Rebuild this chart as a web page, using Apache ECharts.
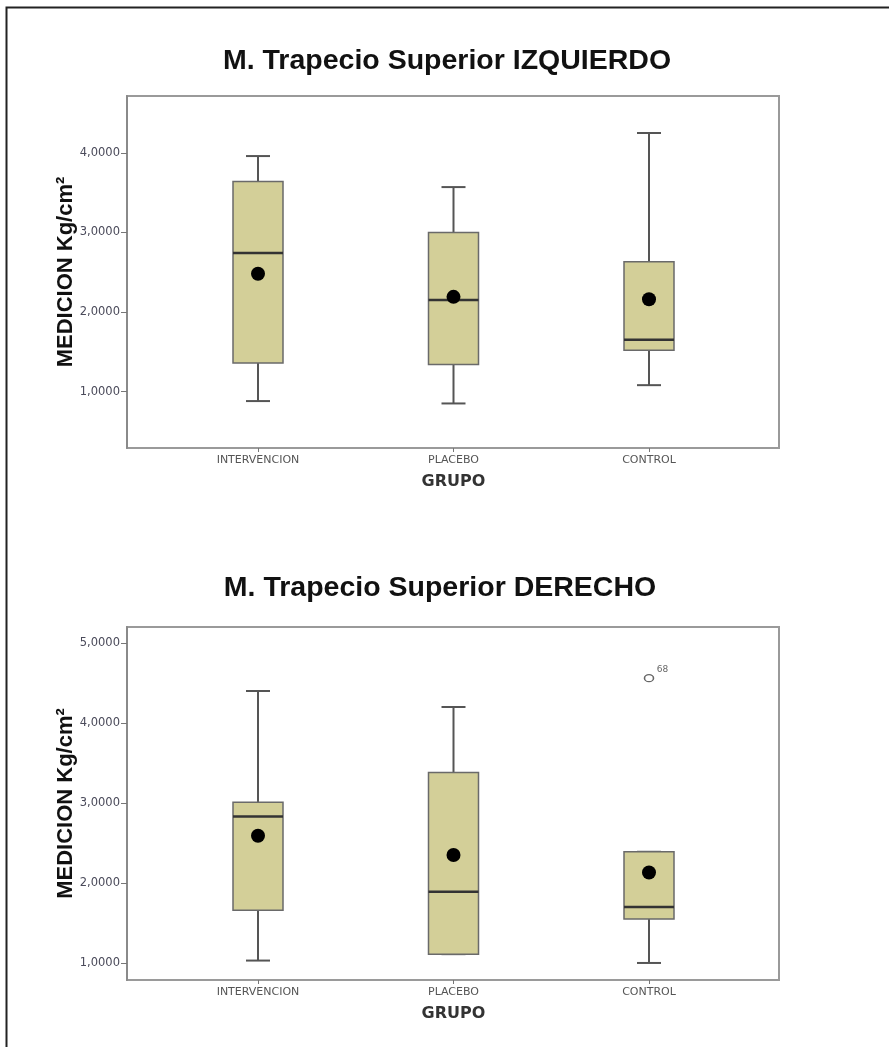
<!DOCTYPE html>
<html>
<head>
<meta charset="utf-8">
<script src="https://cdn.jsdelivr.net/npm/echarts@6/dist/echarts.min.js"></script>
<style>
html,body{margin:0;padding:0;background:#fff;}
#chart{width:889px;height:1047px;}
</style>
</head>
<body>
<div id="chart"></div>
<script>
// ---- data ----
const categories = ['INTERVENCION', 'PLACEBO', 'CONTROL'];
// [min, Q1, median, Q3, max]
const boxesLeft = [
  [0.88, 1.36, 2.74, 3.64, 3.96],
  [0.85, 1.34, 2.15, 3.00, 3.57],
  [1.08, 1.52, 1.65, 2.63, 4.25]
];
const meansLeft = [2.48, 2.19, 2.16];
const boxesRight = [
  [1.03, 1.66, 2.83, 3.01, 4.40],
  [1.11, 1.11, 1.89, 3.38, 4.20],
  [1.00, 1.55, 1.70, 2.39, 2.39]
];
const meansRight = [2.59, 2.35, 2.13];
const outliersRight = [[2, 4.56, '68']];
const yTicksLeft = [1, 2, 3, 4];
const yTicksRight = [1, 2, 3, 4, 5];
const titleLeft = 'M. Trapecio Superior IZQUIERDO';
const titleRight = 'M. Trapecio Superior DERECHO';
const yName = 'MEDICION Kg/cm²';
const xName = 'GRUPO';

// ---- chart ----
const fmt = v => v.toFixed(4).replace('.', ',');

function renderBox(params, api) {
  const i = api.value(0);
  const lo = api.coord([i, api.value(1)]);
  const q1 = api.coord([i, api.value(2)]);
  const med = api.coord([i, api.value(3)]);
  const q3 = api.coord([i, api.value(4)]);
  const hi = api.coord([i, api.value(5)]);
  const cx = lo[0], bw = 50, cw = 24;
  const ls = {stroke: '#555', lineWidth: 2};
  return {
    type: 'group',
    children: [
      {type: 'line', shape: {x1: cx, y1: hi[1], x2: cx, y2: q3[1]}, style: ls},
      {type: 'line', shape: {x1: cx, y1: q1[1], x2: cx, y2: lo[1]}, style: ls},
      {type: 'line', shape: {x1: cx - cw / 2, y1: hi[1], x2: cx + cw / 2, y2: hi[1]}, style: ls},
      {type: 'line', shape: {x1: cx - cw / 2, y1: lo[1], x2: cx + cw / 2, y2: lo[1]}, style: ls},
      {type: 'rect', shape: {x: cx - bw / 2, y: q3[1], width: bw, height: q1[1] - q3[1]},
       style: {fill: '#d3cf98', stroke: '#6a6a6a', lineWidth: 1.5}},
      {type: 'line', shape: {x1: cx - bw / 2, y1: med[1], x2: cx + bw / 2, y2: med[1]},
       style: {stroke: '#333', lineWidth: 2.5}}
    ]
  };
}

const panels = [
  {top: 96, height: 352, min: 0.29, max: 4.715, ticks: yTicksLeft, boxes: boxesLeft, means: meansLeft, outliers: [], title: titleLeft, titleTop: 47, titleX: 447},
  {top: 627, height: 353, min: 0.787, max: 5.2, ticks: yTicksRight, boxes: boxesRight, means: meansRight, outliers: outliersRight, title: titleRight, titleTop: 574, titleX: 440}
];

const grid = [], xAxis = [], yAxis = [], series = [], title = [];
panels.forEach((p, k) => {
  const gFrame = k * 2, gData = k * 2 + 1;
  grid.push({left: 127, top: p.top, width: 652, height: p.height, show: true, borderColor: '#9a9a9a', borderWidth: 2, backgroundColor: 'transparent'});
  grid.push({left: 160.25, top: p.top, width: 586.5, height: p.height});
  title.push({text: p.title, left: p.titleX, top: p.titleTop, textAlign: 'center', padding: 0,
    textStyle: {fontFamily: 'Liberation Sans', fontWeight: 'bold', fontSize: 28.5, color: '#111'}});
  xAxis.push({type: 'value', gridIndex: gFrame, min: 0, max: 1, show: false});
  xAxis.push({type: 'category', gridIndex: gData, data: categories, boundaryGap: true,
    axisLine: {show: false},
    axisTick: {show: true, alignWithLabel: true, length: 4, lineStyle: {color: '#777', width: 1}},
    axisLabel: {margin: 7, fontFamily: 'DejaVu Sans', fontSize: 11, color: '#555'},
    name: xName, nameLocation: 'middle', nameGap: 26, nameMoveOverlap: false,
    nameTextStyle: {fontFamily: 'DejaVu Sans', fontWeight: 'bold', fontSize: 16, color: '#333'}});
  yAxis.push({type: 'value', gridIndex: gFrame, min: p.min, max: p.max,
    axisLine: {show: true, lineStyle: {color: '#8a8a8a', width: 2}},
    axisTick: {show: true, length: 6, customValues: p.ticks, lineStyle: {color: '#777', width: 1}},
    axisLabel: {show: true, customValues: p.ticks, formatter: fmt, margin: 7,
      fontFamily: 'DejaVu Sans', fontSize: 11.5, color: '#4a4a5a'},
    splitLine: {show: false},
    name: yName, nameLocation: 'middle', nameGap: 50, nameMoveOverlap: false,
    nameTextStyle: {fontFamily: 'Liberation Sans', fontWeight: 'bold', fontSize: 22, color: '#111'}});
  yAxis.push({type: 'value', gridIndex: gData, min: p.min, max: p.max, show: false, splitLine: {show: false}});

  series.push({type: 'custom', xAxisIndex: gData, yAxisIndex: gData, renderItem: renderBox,
    encode: {x: 0, y: [1, 2, 3, 4, 5]},
    data: p.boxes.map((b, i) => [i].concat(b)), z: 2});
  series.push({type: 'scatter', xAxisIndex: gData, yAxisIndex: gData, symbol: 'circle', symbolSize: 14,
    itemStyle: {color: '#000', opacity: 1}, data: p.means.map((m, i) => [i, m]), z: 5});
  if (p.outliers.length) {
    series.push({type: 'scatter', xAxisIndex: gData, yAxisIndex: gData, symbol: 'circle', symbolSize: [9, 7],
      itemStyle: {color: '#fff', borderColor: '#666', borderWidth: 1.4, opacity: 1},
      label: {show: true, position: [13, -9], formatter: d => d.value[2], fontFamily: 'DejaVu Sans', fontSize: 9, color: '#666'},
      data: p.outliers, z: 5});
  }
});

const chart = echarts.init(document.getElementById('chart'), null, {renderer: 'canvas'});
chart.setOption({
  animation: false,
  backgroundColor: '#fff',
  title: title,
  grid: grid,
  xAxis: xAxis,
  yAxis: yAxis,
  series: series,
  graphic: [{type: 'rect', shape: {x: 6.5, y: 7.5, width: 1000, height: 1100},
    style: {fill: 'transparent', stroke: '#222', lineWidth: 2}, silent: true}]
});
</script>
</body>
</html>
